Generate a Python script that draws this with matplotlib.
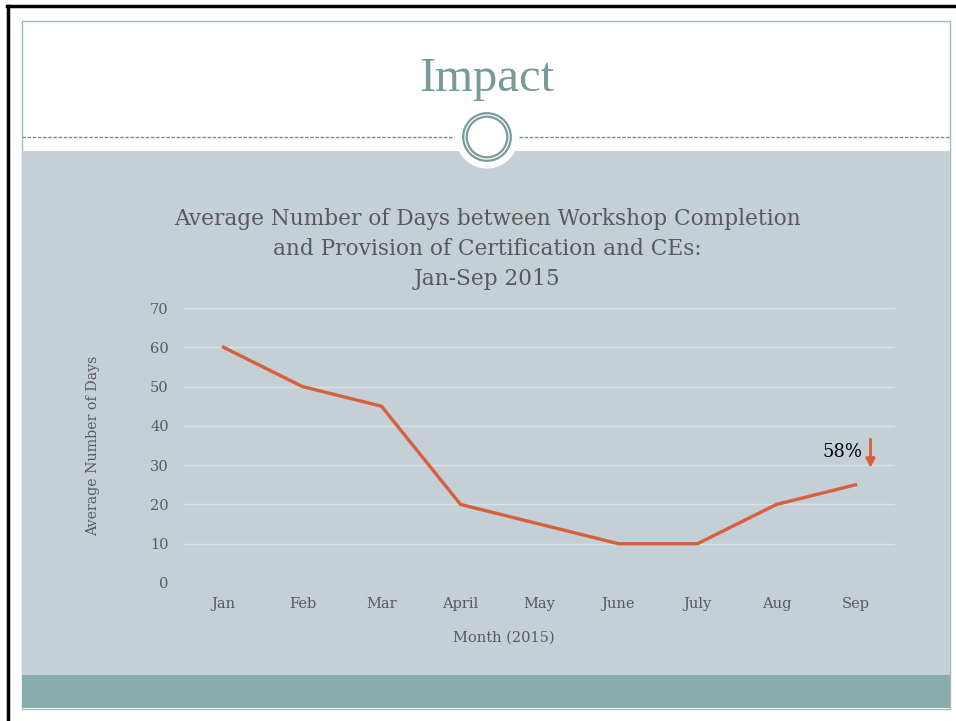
import matplotlib.pyplot as plt
from matplotlib.patches import Rectangle, Circle

# Chart data
months = ["Jan", "Feb", "Mar", "April", "May", "June", "July", "Aug", "Sep"]
avg_days = [60, 50, 45, 20, 15, 10, 10, 20, 25]
y_ticks = [0, 10, 20, 30, 40, 50, 60, 70]

W, H = 956, 721
SERIF = "DejaVu Serif"
GREY = "#595959"
fig = plt.figure(figsize=(W / 100, H / 100), dpi=100)

# Slide background drawn in pixel coordinates
bg = fig.add_axes([0, 0, 1, 1])
bg.set_xlim(0, W)
bg.set_ylim(H, 0)
bg.axis("off")

bg.add_patch(Rectangle((22, 20.5), 928.5, 688, facecolor="white", edgecolor="#9FBDBD", lw=1))
bg.add_patch(Rectangle((22.5, 151), 927.5, 524, facecolor="#C5D0D6", edgecolor="none"))
bg.add_patch(Rectangle((22.5, 675), 927.5, 33, facecolor="#8AACAC", edgecolor="none"))
# dashed divider
bg.plot([22.5, 454], [137, 137], color="#6F9393", lw=1, ls=(0, (2.5, 1.2)))
bg.plot([519, 950], [137, 137], color="#6F9393", lw=1, ls=(0, (2.5, 1.2)))
# circle ornament
bg.add_patch(Circle((487, 137), 31.5, facecolor="white", edgecolor="none"))
bg.add_patch(Circle((487, 137), 23.8, facecolor="none", edgecolor="#7A9A9A", lw=1.6))
bg.add_patch(Circle((487, 137), 20.3, facecolor="none", edgecolor="#7A9A9A", lw=1.6))
# outer black frame
bg.plot([8, 8], [5.5, H], color="black", lw=2.5)
bg.plot([7, W], [5.5, 5.5], color="black", lw=2.5)

bg.text(487, 79, "Impact", ha="center", va="center", fontsize=35,
        color="#7A9A9A", family="Liberation Serif")

# Chart title
fig.text(487.5 / W, 1 - 249 / H,
         "Average Number of Days between Workshop Completion\n"
         "and Provision of Certification and CEs:\nJan-Sep 2015",
         ha="center", va="center", fontsize=15.6, color=GREY,
         family=SERIF, linespacing=1.49)

# Line chart
ax = fig.add_axes([184 / W, 1 - 583 / H, 711 / W, 275 / H])
ax.patch.set_alpha(0)
x = list(range(len(months)))
ax.plot(x, avg_days, color="#D65F3E", lw=2.4)
ax.set_xlim(-0.5, len(months) - 0.5)
ax.set_ylim(0, 70)
ax.set_yticks(y_ticks)
ax.set_xticks(x)
ax.set_xticklabels(months)
for s in ax.spines.values():
    s.set_visible(False)
ax.grid(axis="y", color="#DAE2E6", lw=1)
ax.set_axisbelow(True)
ax.tick_params(length=0, colors=GREY, labelsize=10.5)
ax.tick_params(axis="y", pad=11)
ax.tick_params(axis="x", pad=10)
for lab in ax.get_xticklabels() + ax.get_yticklabels():
    lab.set_family(SERIF)
ax.set_xlabel("Month (2015)", fontsize=10.5, color=GREY, family=SERIF)
ax.set_ylabel("Average Number of Days", fontsize=10.2, color=GREY, family=SERIF)
ax.xaxis.set_label_coords((504 - 184) / 711, (583 - 631) / 275)
ax.yaxis.set_label_coords((100 - 184) / 711, 0.5)

# 58% annotation with down arrow
ax.text(7.83, 33.3, "58%", ha="center", va="center", fontsize=13,
        color="black", family=SERIF)
ax.annotate("", xy=(8.19, 28.6), xytext=(8.19, 37.3),
            arrowprops=dict(arrowstyle="-|>", color="#D65F3E", lw=2, mutation_scale=13),
            annotation_clip=False)

fig.savefig("out.png", dpi=100)
